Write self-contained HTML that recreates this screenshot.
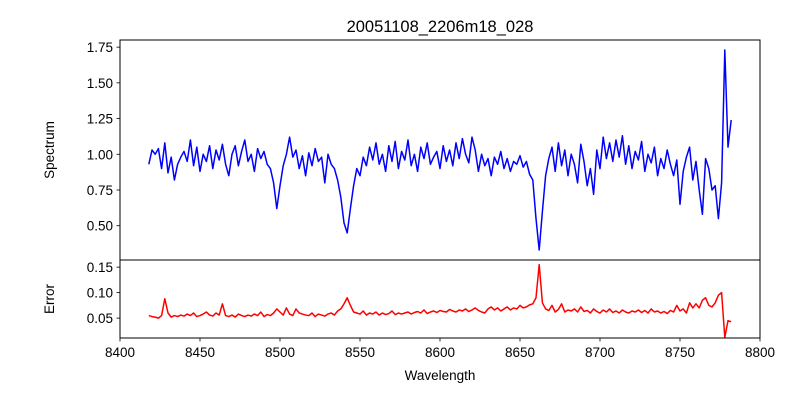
<!DOCTYPE html>
<html><head><meta charset="utf-8">
<style>
html,body{margin:0;padding:0;background:#fff;}
svg{display:block;font-family:"Liberation Sans","DejaVu Sans",sans-serif;}
</style></head>
<body>
<svg id="chart" width="800" height="400" viewBox="0 0 800 400">
<rect x="0" y="0" width="800" height="400" fill="#fff"/>
<text x="440" y="32" font-size="16.5" text-anchor="middle">20051108_2206m18_028</text>
<g id="top-plot"></g>
<g id="bot-plot"></g>
<text transform="translate(54,150) rotate(-90)" font-size="13.5" text-anchor="middle">Spectrum</text>
<text transform="translate(54,299) rotate(-90)" font-size="13.5" text-anchor="middle">Error</text>
<text x="440" y="380" font-size="13.5" text-anchor="middle">Wavelength</text>
</svg>
<script>
const wlStart = 8418;
const wlStep = 2;
const flux = [
0.93,1.03,1.00,1.04,0.90,1.08,0.87,0.98,0.82,0.93,
0.98,1.02,0.95,1.10,0.92,1.05,0.88,1.00,0.95,1.06,
0.90,1.03,0.96,1.07,0.93,0.85,1.00,1.06,0.92,1.02,
1.10,0.95,1.00,0.88,1.04,0.97,1.02,0.93,0.90,0.80,
0.62,0.78,0.92,1.00,1.12,0.98,1.03,0.90,0.99,0.85,
1.01,0.92,1.04,0.95,0.98,0.80,1.00,0.93,0.90,0.82,
0.70,0.52,0.45,0.62,0.78,0.90,0.85,0.98,0.92,1.05,
0.96,1.08,0.93,1.00,0.88,1.06,0.95,1.09,0.90,1.02,
0.96,1.10,0.92,1.00,0.88,1.05,0.97,1.08,0.93,0.98,
1.02,0.90,1.06,0.95,1.03,0.92,1.08,0.97,1.11,1.00,
0.94,1.12,1.03,0.88,1.00,0.92,0.97,0.85,0.98,0.93,
1.02,0.90,0.97,0.88,0.95,0.93,0.99,0.91,0.95,0.86,
0.82,0.55,0.33,0.60,0.85,0.97,1.05,0.88,1.08,0.92,
1.03,0.85,1.00,0.93,0.80,1.07,0.95,0.78,0.90,0.72,
1.03,0.90,1.12,0.97,1.08,0.95,1.10,0.98,1.13,0.93,
1.06,0.90,1.02,0.96,1.09,0.88,1.00,0.94,1.05,0.85,
0.97,0.90,1.03,0.93,0.85,0.96,0.65,0.88,0.98,1.05,
0.82,0.95,0.75,0.58,0.97,0.90,0.75,0.78,0.55,0.80,
1.73,1.05,1.24];
const errs = [
.055,.053,.052,.050,.055,.088,.060,.052,.055,.053,
.056,.054,.058,.055,.060,.053,.055,.058,.062,.056,
.054,.060,.056,.078,.055,.053,.056,.052,.058,.055,
.053,.056,.054,.058,.055,.062,.053,.057,.055,.060,
.068,.062,.056,.070,.058,.055,.068,.060,.058,.056,
.055,.060,.053,.058,.056,.054,.058,.060,.056,.064,
.068,.078,.090,.075,.062,.060,.058,.064,.056,.060,
.058,.062,.056,.060,.057,.059,.064,.057,.060,.058,
.060,.062,.058,.061,.063,.060,.066,.059,.062,.064,
.061,.065,.063,.062,.067,.064,.062,.066,.064,.068,
.063,.066,.070,.065,.062,.060,.068,.072,.066,.070,
.064,.068,.072,.066,.070,.068,.075,.070,.072,.076,
.078,.090,.155,.080,.068,.065,.075,.062,.067,.078,
.062,.066,.064,.068,.062,.072,.063,.065,.060,.068,
.063,.060,.066,.062,.068,.061,.064,.060,.066,.062,
.060,.064,.062,.066,.061,.065,.060,.068,.062,.064,
.060,.063,.059,.065,.062,.075,.064,.068,.060,.080,
.070,.078,.070,.085,.090,.075,.072,.080,.095,.100,
.012,.045,.043];
const xTicks = [8400,8450,8500,8550,8600,8650,8700,8750,8800];
const topTicks = [0.50,0.75,1.00,1.25,1.50,1.75];
const botTicks = [0.05,0.10,0.15];

const NS = "http://www.w3.org/2000/svg";
const L = 120, R = 760;
const xMin = 8400, xMax = 8800;
const X = v => L + (v - xMin) / (xMax - xMin) * (R - L);
const topT = 40, topB = 260, topMin = 0.26, topMax = 1.80;
const botT = 260, botB = 338, botMin = 0.011, botMax = 0.164;
const YT = v => topB - (v - topMin) / (topMax - topMin) * (topB - topT);
const YB = v => botB - (v - botMin) / (botMax - botMin) * (botB - botT);

function mk(tag, attrs, parent) {
  const e = document.createElementNS(NS, tag);
  for (const k in attrs) e.setAttribute(k, attrs[k]);
  parent.appendChild(e);
  return e;
}
const topG = document.getElementById('top-plot');
const botG = document.getElementById('bot-plot');

function series(arr, Y, color, parent, name) {
  const pts = arr.map((v, i) => X(wlStart + i * wlStep).toFixed(2) + ',' + Y(v).toFixed(2)).join(' ');
  const p = mk('polyline', {points: pts, fill: 'none', stroke: color, 'stroke-width': 1.5, 'stroke-linejoin': 'round'}, parent);
  
  
}
series(flux, YT, '#0000ff', topG, 'spectrum-line');
series(errs, YB, '#ff0000', botG, 'error-line');

function frame(t, b, parent, name) {
  const r = mk('rect', {x: L, y: t, width: R - L, height: b - t, fill: 'none', stroke: '#000', 'stroke-width': 1}, parent);
  
  
}
frame(topT, topB, topG, 'spectrum-frame');
frame(botT, botB, botG, 'error-frame');

topTicks.forEach(v => {
  const y = YT(v);
  const t = mk('line', {x1: L - 3.5, x2: L, y1: y, y2: y, stroke: '#000', 'stroke-width': 0.8}, topG);
  
  
  const s = mk('text', {x: L - 7, y: y + 5, 'font-size': 13.5, 'text-anchor': 'end'}, topG);
  s.textContent = v.toFixed(2);
  
  
});
botTicks.forEach(v => {
  const y = YB(v);
  const t = mk('line', {x1: L - 3.5, x2: L, y1: y, y2: y, stroke: '#000', 'stroke-width': 0.8}, botG);
  
  
  const s = mk('text', {x: L - 7, y: y + 5, 'font-size': 13.5, 'text-anchor': 'end'}, botG);
  s.textContent = v.toFixed(2);
  
  
});
xTicks.forEach(v => {
  const x = X(v);
  const t = mk('line', {x1: x, x2: x, y1: botB, y2: botB + 3.5, stroke: '#000', 'stroke-width': 0.8}, botG);
  
  
  const s = mk('text', {x: x, y: botB + 19, 'font-size': 13.5, 'text-anchor': 'middle'}, botG);
  s.textContent = v;
  
  
});
</script>
</body></html>
